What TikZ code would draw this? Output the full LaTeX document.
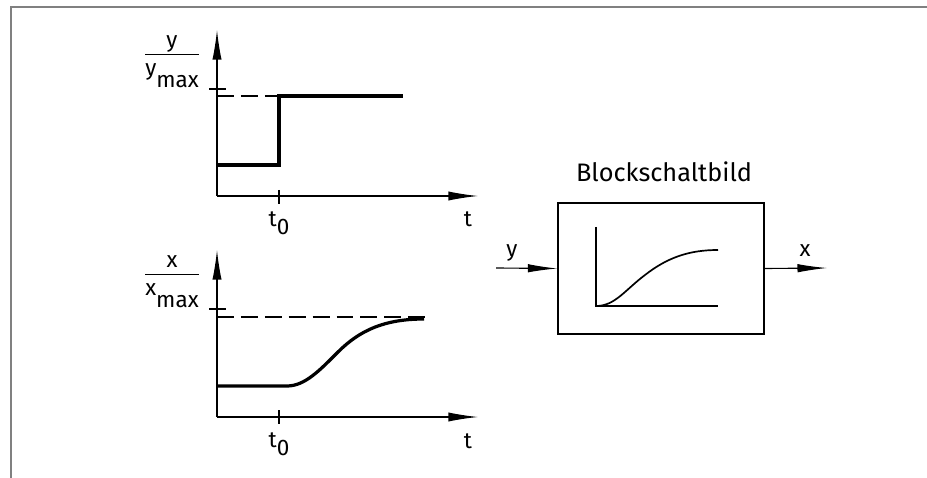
\documentclass[tikz,border=0pt]{standalone}
\usepackage{fontspec}
\setmainfont{Fira Sans}
\usetikzlibrary{arrows.meta}

\newcommand{\lowtxt}[2][1ex]{\raisebox{-#1}{#2}}
\newcommand{\frc}[2]{\begin{tabular}{@{}c@{}}#1\\[-1pt]\hline\rule{0pt}{15pt}#2\end{tabular}}

\begin{document}
\begin{tikzpicture}[
  x=0.025cm, y=-0.025cm,
  ax/.style={line width=0.8pt, -{Latex[length=21pt, width=6.5pt]}},
  sig/.style={line width=0.8pt, -{Latex[length=21pt, width=6pt]}},
  crv/.style={line width=2.3pt},
  thn/.style={line width=0.8pt},
  ref/.style={line width=0.8pt, dash pattern=on 12pt off 5pt},
  frm/.style={gray, line width=1.4pt},
  lbl/.style={font=\fontsize{16}{18}\selectfont, inner sep=0pt},
  ttl/.style={font=\fontsize{18}{21}\selectfont, inner sep=0pt},
  blk/.style={draw, line width=0.9pt, minimum width=5.15cm,
              minimum height=3.28cm, inner sep=0pt},
]
\useasboundingbox (0,0) rectangle (927,478);

% ---- frame -----------------------------------------------------------------
\draw[frm] (11,478) -- (11,7) -- (927,7);

% ---- input signal y (step) -------------------------------------------------
\coordinate (o1) at (217,196);
\draw[ax] (o1) -- (217,30);
\draw[ax] (o1) -- (478,196);
\draw[thn] (209,89) -- (226,89);
\draw[thn] (279,190) -- (279,204);
\draw[ref] (217,96) -- (279,96);
\draw[crv] (217,165) -- (279,165) -- (279,96) -- (403,96);
\node[lbl] (ylab) at (172,59) {\frc{y}{y\lowtxt{max}}};
\node[lbl] (t0a) at (279,223) {t\lowtxt[0.65ex]{0}};
\node[lbl] (ta) at (468,219) {t};

% ---- output signal x (response) --------------------------------------------
\coordinate (o2) at (217,417);
\draw[ax] (o2) -- (217,250);
\draw[ax] (o2) -- (478,417);
\draw[thn] (209,309) -- (226,309);
\draw[thn] (279,410) -- (279,424);
\draw[ref] (217,317) -- (425,317);
\draw[crv] (217,386) -- (287,386)
  .. controls (305,386) and (320,370) .. (338,352)
  .. controls (360,330) and (385,319) .. (424,319);
\node[lbl] (xlab) at (172,279) {\frc{x}{x\lowtxt{max}}};
\node[lbl] (t0b) at (279,444) {t\lowtxt[0.65ex]{0}};
\node[lbl] (tb) at (468,441) {t};

% ---- block diagram ---------------------------------------------------------
\node[blk] (block) at (661,268.5) {};
\node[ttl] (title) at (664,172) {Blockschaltbild};
\draw[thn] (596,227) -- (596,306) -- (718,306);
\draw[thn, line width=1.2pt] (596,306)
  .. controls (615,306) and (625,290) .. (645,275)
  .. controls (668,257) and (690,250) .. (718,250);

\coordinate (yin) at (496,268);
\coordinate (xout) at (827,268);
\draw[sig] (yin) -- (block.west);
\draw[sig] (block.east) -- (xout);
\node[lbl] (ysig) at (512,253) {y};
\node[lbl] (xsig) at (805,251) {x};

\end{tikzpicture}
\end{document}
